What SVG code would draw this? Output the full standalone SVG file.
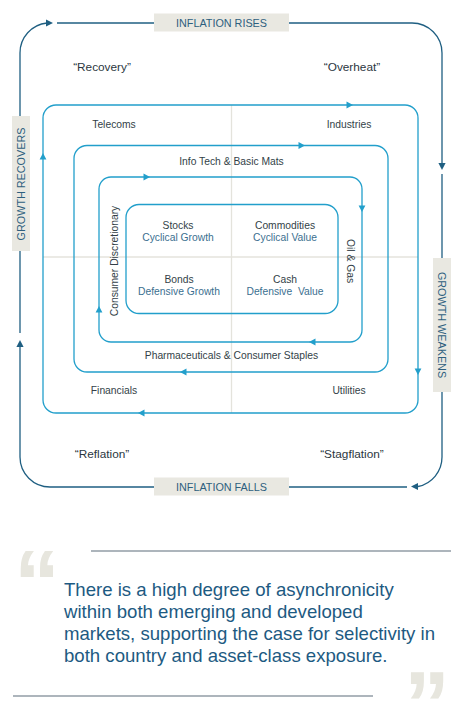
<svg xmlns="http://www.w3.org/2000/svg" xmlns:xlink="http://www.w3.org/1999/xlink" width="461" height="717" viewBox="0 0 461 717">
  <style>
    .outer { fill: none; stroke: #1f5f82; stroke-width: 1.3; }
    .loop { fill: none; stroke: #229fcb; stroke-width: 1.3; }
    .grid { fill: none; stroke: #e4e3dc; stroke-width: 1.3; }
    .ahO { fill: #1f5f82; }
    .ahI { fill: #229fcb; }
    .box { fill: #e9e8e1; }
    .boxt { font-family: "Liberation Sans", Arial, sans-serif; font-size: 10.8px; fill: #2e5f7e; text-anchor: middle; }
    .lbl { font-family: "Liberation Sans", Arial, sans-serif; font-size: 10.3px; fill: #333f48; text-anchor: middle; }
    .sub { font-family: "Liberation Sans", Arial, sans-serif; font-size: 10.3px; fill: #3b6f90; text-anchor: middle; }
    .phase { font-family: "Liberation Sans", Arial, sans-serif; font-size: 11.8px; fill: #2b3640; text-anchor: middle; }
    .quote { font-family: "Liberation Sans", Arial, sans-serif; font-size: 18.6px; fill: #1d5a82; }
    .qm { font-family: "Liberation Sans", Arial, sans-serif; font-weight: bold; font-size: 92px; fill: #e7e6de; }
    .rule { stroke: #5d6d7a; stroke-width: 1.2; }
  </style>
  <defs>
    <path id="aO" d="M0,0 L-7,-3.6 L-7,3.6 Z"/>
    <path id="aI" d="M0,0 L-6.5,-3.4 L-6.5,3.4 Z"/>
  </defs>

  <g id="quadrant-grid">
    <line class="grid" x1="231.5" y1="105" x2="231.5" y2="413"/>
    <line class="grid" x1="43" y1="257" x2="418" y2="257"/>
  </g>

  <g id="connectors">
    <!-- outer cycle -->
    <path class="outer" d="M20,116 V53 A30,30 0 0 1 47,23"/>
    <use href="#aO" class="ahO" transform="translate(53,23)"/>
    <path class="outer" d="M57,23 H154"/>
    <path class="outer" d="M289,23 H412 A30,30 0 0 1 442,53 V163"/>
    <use href="#aO" class="ahO" transform="translate(442,170) rotate(90)"/>
    <path class="outer" d="M442,174 V258"/>
    <path class="outer" d="M442,392 V457 A30,30 0 0 1 418,486.5"/>
    <use href="#aO" class="ahO" transform="translate(411,486.5) rotate(180)"/>
    <path class="outer" d="M407,487 H289"/>
    <path class="outer" d="M154,487 H50 A30,30 0 0 1 20,457 V347"/>
    <use href="#aO" class="ahO" transform="translate(20,340) rotate(-90)"/>
    <path class="outer" d="M20,333 V251"/>

    <!-- loop 1 -->
    <rect class="loop" x="43" y="105" width="375" height="308" rx="13"/>
    <use href="#aI" class="ahI" transform="translate(353,105)"/>
    <use href="#aI" class="ahI" transform="translate(418,375) rotate(90)"/>
    <use href="#aI" class="ahI" transform="translate(138,413) rotate(180)"/>
    <use href="#aI" class="ahI" transform="translate(43,153) rotate(-90)"/>

    <!-- loop 2 -->
    <rect class="loop" x="74" y="145.5" width="314" height="226.5" rx="13"/>
    <use href="#aI" class="ahI" transform="translate(305,145.5)"/>
    <use href="#aI" class="ahI" transform="translate(180,372) rotate(180)"/>

    <!-- loop 3 -->
    <rect class="loop" x="99" y="177" width="263" height="165" rx="12"/>
    <use href="#aI" class="ahI" transform="translate(150,177)"/>
    <use href="#aI" class="ahI" transform="translate(362,212) rotate(90)"/>
    <use href="#aI" class="ahI" transform="translate(309,342) rotate(180)"/>
    <use href="#aI" class="ahI" transform="translate(99,306) rotate(-90)"/>
  </g>

  <g id="label-inflation-rises">
    <rect class="box" x="154" y="13.5" width="135" height="18"/>
    <text class="boxt" x="221.5" y="26.5">INFLATION RISES</text>
  </g>
  <g id="label-inflation-falls">
    <rect class="box" x="154" y="477.5" width="135" height="18"/>
    <text class="boxt" x="221.5" y="490.5">INFLATION FALLS</text>
  </g>
  <g id="label-growth-recovers">
    <rect class="box" x="12" y="116" width="18" height="135"/>
    <text class="boxt" transform="translate(21,184) rotate(-90)" x="0" y="3.9">GROWTH RECOVERS</text>
  </g>
  <g id="label-growth-weakens">
    <rect class="box" x="433" y="258" width="18" height="134"/>
    <text class="boxt" transform="translate(442,325) rotate(90)" x="0" y="3.9">GROWTH WEAKENS</text>
  </g>

  <g id="phase-recovery"><text class="phase" x="102" y="71">“Recovery”</text></g>
  <g id="phase-overheat"><text class="phase" x="352" y="71">“Overheat”</text></g>
  <g id="phase-reflation"><text class="phase" x="102" y="458">“Reflation”</text></g>
  <g id="phase-stagflation"><text class="phase" x="352" y="458">“Stagflation”</text></g>

  <g id="sector-telecoms"><text class="lbl" x="114" y="128">Telecoms</text></g>
  <g id="sector-industries"><text class="lbl" x="349" y="128">Industries</text></g>
  <g id="sector-infotech"><text class="lbl" x="231.5" y="165">Info Tech &amp; Basic Mats</text></g>
  <g id="sector-consumer-disc"><text class="lbl" transform="translate(114,261) rotate(-90)" x="0" y="3.7">Consumer Discretionary</text></g>
  <g id="sector-oil-gas"><text class="lbl" transform="translate(351,261) rotate(90)" x="0" y="3.7">Oil &amp; Gas</text></g>
  <g id="sector-pharma"><text class="lbl" x="231.5" y="359">Pharmaceuticals &amp; Consumer Staples</text></g>
  <g id="sector-financials"><text class="lbl" x="114" y="394">Financials</text></g>
  <g id="sector-utilities"><text class="lbl" x="349" y="394">Utilities</text></g>

  <g id="asset-core">
    <rect class="loop" x="126" y="204.5" width="212" height="109" rx="13"/>
  </g>
  <g id="asset-stocks">
    <text class="lbl" x="178" y="229">Stocks</text>
    <text class="sub" x="178" y="241">Cyclical Growth</text>
  </g>
  <g id="asset-commodities">
    <text class="lbl" x="285" y="229">Commodities</text>
    <text class="sub" x="285" y="241">Cyclical Value</text>
  </g>
  <g id="asset-bonds">
    <text class="lbl" x="179" y="283">Bonds</text>
    <text class="sub" x="179" y="295">Defensive Growth</text>
  </g>
  <g id="asset-cash">
    <text class="lbl" x="285" y="283">Cash</text>
    <text class="sub" x="285" y="295" xml:space="preserve">Defensive  Value</text>
  </g>

  <g id="pull-quote">
    <line class="rule" x1="91" y1="551" x2="451" y2="551"/>
    <text class="qm" x="14" y="615">“</text>
    <text class="quote" x="64" y="596">There is a high degree of asynchronicity</text>
    <text class="quote" x="64" y="618">within both emerging and developed</text>
    <text class="quote" x="64" y="640">markets, supporting the case for selectivity in</text>
    <text class="quote" x="64" y="662">both country and asset-class exposure.</text>
    <text class="qm" x="404" y="736">”</text>
    <line class="rule" x1="13" y1="696" x2="373" y2="696"/>
  </g>
</svg>
